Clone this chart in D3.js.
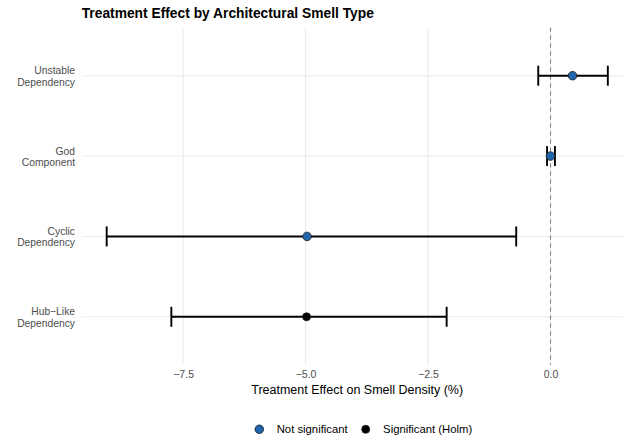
<!DOCTYPE html>
<html>
<head>
<meta charset="utf-8">
<script src="https://cdn.jsdelivr.net/npm/d3@7"></script>
<style>
  html, body { margin: 0; padding: 0; background: #fff; }
  svg { display: block; font-family: "Liberation Sans", Arial, Helvetica, sans-serif; }
</style>
</head>
<body>
<svg id="chart" width="623" height="439"></svg>
<script>
// ---- data ----
const categories = ["Unstable\nDependency", "God\nComponent", "Cyclic\nDependency", "Hub\u2212Like\nDependency"];
const estimates  = [0.45, 0.00, -4.97, -4.98];
const ciLower    = [-0.25, -0.07, -9.06, -7.74];
const ciUpper    = [1.17, 0.09, -0.70, -2.12];
const significance = ["Not significant", "Not significant", "Not significant", "Significant (Holm)"];
const xTicks = [-7.5, -5.0, -2.5, 0.0];
const legendLabels = ["Not significant", "Significant (Holm)"];
const legendColors = ["#2166AC", "#000000"];

const rows = categories.map((c, i) => ({
  cat: c, est: estimates[i], lo: ciLower[i], hi: ciUpper[i], sig: significance[i]
}));

const svg = d3.select("#chart");
const panel = { left: 81.7, right: 632.8, top: 27.5, bottom: 365 };

const x = d3.scaleLinear().domain([-9.57, 1.68]).range([panel.left, panel.right]);
const y = d3.scalePoint().domain(categories).range([panel.top, panel.bottom]).padding(0.6);
const color = d3.scaleOrdinal().domain(legendLabels).range(legendColors);

// grid
const g = svg.append("g");
g.selectAll(".vgrid").data(xTicks).enter().append("line")
  .attr("x1", d => x(d)).attr("x2", d => x(d))
  .attr("y1", panel.top).attr("y2", panel.bottom)
  .attr("stroke", "#EBEBEB").attr("stroke-width", 1.1);
g.selectAll(".hgrid").data(categories).enter().append("line")
  .attr("x1", panel.left).attr("x2", panel.right)
  .attr("y1", d => y(d)).attr("y2", d => y(d))
  .attr("stroke", "#EBEBEB").attr("stroke-width", 1.1);

// reference line at zero
g.append("line")
  .attr("x1", x(0)).attr("x2", x(0))
  .attr("y1", panel.top).attr("y2", panel.bottom)
  .attr("stroke", "#808080").attr("stroke-width", 1.1)
  .attr("stroke-dasharray", "4,4");

// x axis labels
const xAxis = d3.axisBottom(x).tickValues(xTicks).tickSize(0).tickPadding(0)
  .tickFormat(d => d3.format(".1f")(d).replace("-", "\u2212"));
const xa = svg.append("g").attr("transform", `translate(0,${panel.bottom})`).call(xAxis);
xa.select(".domain").remove();
xa.selectAll("text").attr("y", 13.3).attr("dy", 0).attr("fill", "#4D4D4D")
  .style("font-size", "10.5px").style("font-family", "Liberation Sans, Arial, sans-serif");

// y axis labels (two lines)
const yAxis = d3.axisLeft(y).tickSize(0).tickPadding(0).tickFormat("");
const ya = svg.append("g").attr("transform", `translate(${panel.left},0)`).call(yAxis);
ya.select(".domain").remove();
ya.selectAll(".tick").each(function(d) {
  const lines = d.split("\n");
  const t = d3.select(this).append("text")
    .attr("x", -6.7).attr("text-anchor", "end").attr("fill", "#4D4D4D")
    .style("font-size", "10.3px").style("font-family", "Liberation Sans, Arial, sans-serif");
  lines.forEach((ln, i) => {
    t.append("tspan").attr("x", -6.7).attr("y", i === 0 ? -2 : 9.5).text(ln);
  });
});

// error bars
const capH = 10;
const eb = svg.append("g");
rows.forEach(r => {
  const yy = y(r.cat);
  eb.append("line").attr("x1", x(r.lo)).attr("x2", x(r.hi)).attr("y1", yy).attr("y2", yy)
    .attr("stroke", "#000").attr("stroke-width", 1.9);
  [r.lo, r.hi].forEach(v => {
    eb.append("line").attr("x1", x(v)).attr("x2", x(v)).attr("y1", yy - capH).attr("y2", yy + capH)
      .attr("stroke", "#000").attr("stroke-width", 1.9);
  });
});

// points
svg.append("g").selectAll("circle").data(rows).enter().append("circle")
  .attr("cx", d => x(d.est)).attr("cy", d => y(d.cat))
  .attr("r", d => d.sig === "Significant (Holm)" ? 4 : 4.3)
  .attr("fill", d => color(d.sig))
  .attr("stroke", "#1a1a1a").attr("stroke-width", 0.8);

// title
svg.append("text").attr("x", 81.7).attr("y", 17.5)
  .style("font-size", "13.8px").style("font-weight", "bold").attr("fill", "#000")
  .text("Treatment Effect by Architectural Smell Type");

// x axis title
svg.append("text").attr("x", 357.2).attr("y", 394).attr("text-anchor", "middle")
  .style("font-size", "12.5px").attr("fill", "#000")
  .text("Treatment Effect on Smell Density (%)");

// legend
const legX = [259.3, 365.7];
const leg = svg.append("g");
legendLabels.forEach((lab, i) => {
  leg.append("circle").attr("cx", legX[i]).attr("cy", 429.3).attr("r", i === 0 ? 4.3 : 4)
    .attr("fill", color(lab)).attr("stroke", "#1a1a1a").attr("stroke-width", 0.8);
  leg.append("text").attr("x", legX[i] + 17.4).attr("y", 429.3).attr("dy", "0.35em")
    .style("font-size", "11.3px").attr("fill", "#000").text(lab);
});
</script>
</body>
</html>
